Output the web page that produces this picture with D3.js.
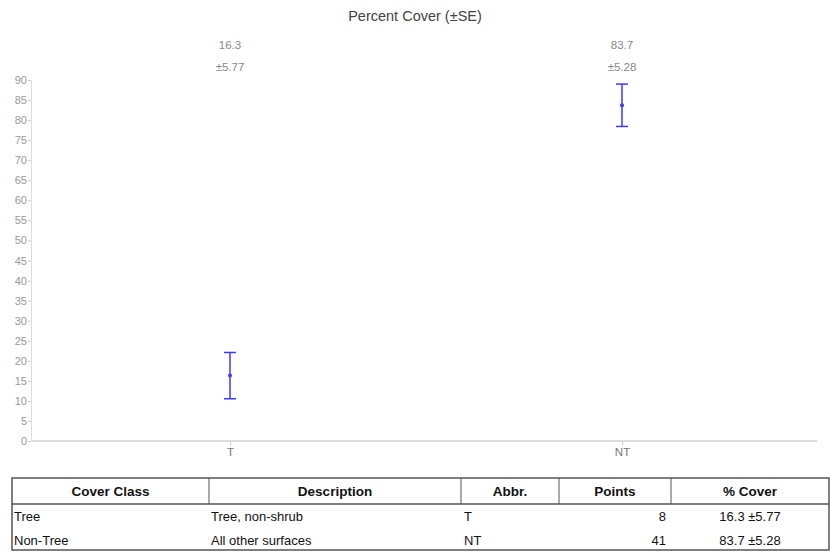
<!DOCTYPE html>
<html><head><meta charset="utf-8">
<script src="https://cdn.jsdelivr.net/npm/d3@7"></script>
<style>
html,body{margin:0;padding:0;background:#fff;}
svg{display:block;font-family:"Liberation Sans",Arial,sans-serif;}
</style></head>
<body>
<svg id="c" width="830" height="552"></svg>
<script>
const categories = ["T", "NT"];
const coverValues = [16.3, 83.7];
const seValues = [5.77, 5.28];
const yTicks = [0,5,10,15,20,25,30,35,40,45,50,55,60,65,70,75,80,85,90];
const tableHeaders = ["Cover Class", "Description", "Abbr.", "Points", "% Cover"];
const coverClasses = ["Tree", "Non-Tree"];
const descriptions = ["Tree, non-shrub", "All other surfaces"];
const points = [8, 41];

(function () {
const svg = d3.select("#c");
const pLeft = 31, pRight = 817, pTop = 80, pBottom = 441;

const x = d3.scalePoint().domain(categories).range([pLeft + 3, pRight + 1]).padding(0.5);
const y = d3.scaleLinear().domain([0, 90]).range([pBottom, pTop]);

// title
svg.append("text").attr("x", 415).attr("y", 21).attr("text-anchor", "middle")
  .attr("font-size", 14.5).attr("fill", "#444").text("Percent Cover (±SE)");

// x axis baseline
svg.append("line").attr("x1", pLeft).attr("x2", pRight).attr("y1", pBottom).attr("y2", pBottom)
  .attr("stroke", "#ddd").attr("stroke-width", 2);

// y axis
const ya = svg.append("g").attr("transform", `translate(${pLeft},0)`)
  .call(d3.axisLeft(y).tickValues(yTicks).tickSize(3).tickPadding(1).tickFormat(d3.format("d")));
ya.select(".domain").attr("stroke", "#ddd");
ya.selectAll(".tick line").attr("stroke", "#ccc");
ya.selectAll(".tick text").attr("fill", "#999").attr("font-size", 11).attr("font-family", "Liberation Sans, Arial, sans-serif");

// x axis
const xa = svg.append("g").attr("transform", `translate(0,${pBottom})`)
  .call(d3.axisBottom(x).tickSize(4).tickPadding(3).tickSizeOuter(0));
xa.select(".domain").remove();
xa.selectAll(".tick line").attr("stroke", "#ccc");
xa.selectAll(".tick text").attr("fill", "#777").attr("font-size", 11.5).attr("font-family", "Liberation Sans, Arial, sans-serif");

// error bars
const data = categories.map((c, i) => ({c, v: coverValues[i], se: seValues[i]}));
const blue = "#3a3aff";
const g = svg.append("g");
data.forEach(d => {
  const cx = x(d.c);
  g.append("line").attr("x1", cx).attr("x2", cx).attr("y1", y(d.v + d.se)).attr("y2", y(d.v - d.se))
    .attr("stroke", blue).attr("stroke-width", 1.5);
  [d.v + d.se, d.v - d.se].forEach(v => {
    g.append("line").attr("x1", cx - 6).attr("x2", cx + 6).attr("y1", y(v)).attr("y2", y(v))
      .attr("stroke", blue).attr("stroke-width", 1.5);
  });
  g.append("circle").attr("cx", cx).attr("cy", y(d.v)).attr("r", 2).attr("fill", blue);
  svg.append("text").attr("x", cx).attr("y", 49).attr("text-anchor", "middle")
    .attr("font-size", 11.5).attr("fill", "#888").text(d.v.toFixed(1));
  svg.append("text").attr("x", cx).attr("y", 71).attr("text-anchor", "middle")
    .attr("font-size", 11.5).attr("fill", "#888").text("±" + d.se.toFixed(2));
});

// table
const colX = [12, 209, 461, 559, 671, 829];
const tTop = 478, hBot = 504, tBot = 550;
const tg = svg.append("g");
const lc = "#555";
tg.append("rect").attr("x", colX[0]).attr("y", tTop).attr("width", colX[5]-colX[0]).attr("height", tBot-tTop)
  .attr("fill", "none").attr("stroke", lc).attr("stroke-width", 1.5);
tg.append("line").attr("x1", colX[0]).attr("x2", colX[5]).attr("y1", hBot).attr("y2", hBot).attr("stroke", lc).attr("stroke-width", 1.5);
colX.slice(1, 5).forEach(cx => {
  tg.append("line").attr("x1", cx).attr("x2", cx).attr("y1", tTop).attr("y2", hBot).attr("stroke", lc).attr("stroke-width", 1);
});
tableHeaders.forEach((h, i) => {
  tg.append("text").attr("x", (colX[i] + colX[i+1]) / 2).attr("y", 496).attr("text-anchor", "middle")
    .attr("font-size", 13.5).attr("font-weight", "bold").attr("fill", "#111").text(h);
});
const rowY = [521, 545];
const fs = 13;
coverClasses.forEach((cc, r) => {
  const yy = rowY[r];
  tg.append("text").attr("x", 14).attr("y", yy).attr("font-size", fs).attr("fill", "#111").text(cc);
  tg.append("text").attr("x", 211).attr("y", yy).attr("font-size", fs).attr("fill", "#111").text(descriptions[r]);
  tg.append("text").attr("x", 464).attr("y", yy).attr("font-size", fs).attr("fill", "#111").text(categories[r]);
  tg.append("text").attr("x", 666).attr("y", yy).attr("text-anchor", "end").attr("font-size", fs).attr("fill", "#111").text(points[r]);
  tg.append("text").attr("x", 750).attr("y", yy).attr("text-anchor", "middle").attr("font-size", fs).attr("fill", "#111")
    .text(coverValues[r].toFixed(1) + " ±" + seValues[r].toFixed(2));
});
})();
</script>
</body></html>
